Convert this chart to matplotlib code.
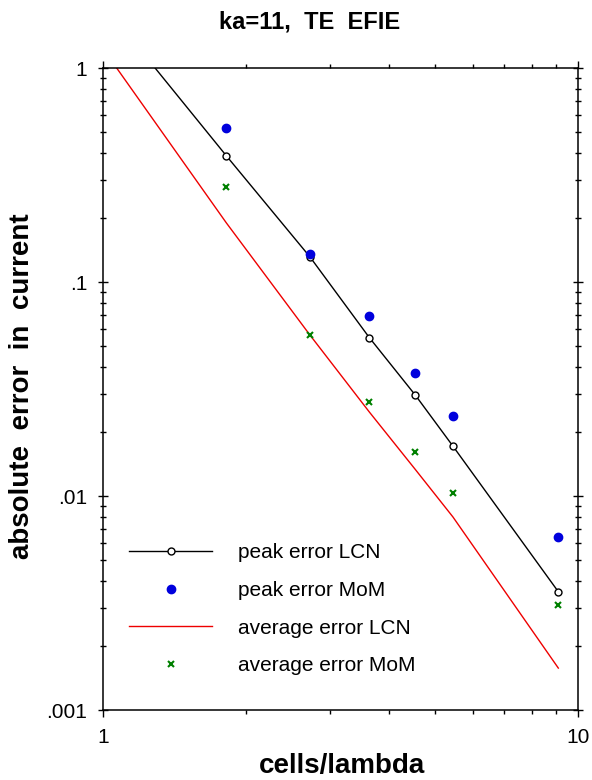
import matplotlib
matplotlib.use("Agg")
import matplotlib.pyplot as plt
from matplotlib.ticker import NullFormatter

plt.rcParams['font.family'] = ['Liberation Sans', 'DejaVu Sans']

# cells per wavelength (samples)
cells = [0.909, 1.818, 2.727, 3.636, 4.545, 5.454, 9.09]
cells_mom = [1.818, 2.727, 3.636, 4.545, 5.454, 9.09]

# errors
peak_lcn = [2.59, 0.389, 0.131, 0.055, 0.0296, 0.0171, 0.00357]
avg_lcn = [1.66, 0.189, 0.0565, 0.0247, 0.0133, 0.00798, 0.00157]
peak_mom = [0.526, 0.135, 0.0694, 0.0376, 0.0236, 0.00646]
avg_mom = [0.279, 0.0565, 0.0276, 0.016, 0.0103, 0.0031]

xticks = [1, 10]
xticklabels = ['1', '10']
yticks = [0.001, 0.01, 0.1, 1]
yticklabels = ['.001', '.01', '.1', '1']

fig = plt.figure(figsize=(5.92, 7.80), dpi=100)
ax = fig.add_axes([103/592, 70/780, 475/592, 642/780])

ax.plot(cells, peak_lcn, color='black', lw=1.0, marker='o', ms=5,
        mfc='white', mec='black', mew=1.0, label='peak error LCN')
ax.plot(cells_mom, peak_mom, ls='none', marker='o', ms=6, color='#0000dd',
        label='peak error MoM')
ax.plot(cells, avg_lcn, color='#ee0000', lw=1.0, label='average error LCN')
ax.plot(cells_mom, avg_mom, ls='none', marker='x', ms=5, mew=1.5,
        color='#008000', label='average error MoM')

ax.set_xscale('log')
ax.set_yscale('log')
ax.set_xlim(1, 10)
ax.set_ylim(0.001, 1)
ax.set_xticks(xticks)
ax.set_xticklabels(xticklabels)
ax.set_yticks(yticks)
ax.set_yticklabels(yticklabels)
ax.xaxis.set_minor_formatter(NullFormatter())
ax.yaxis.set_minor_formatter(NullFormatter())

for s in ax.spines.values():
    s.set_linewidth(1.1)
ax.tick_params(which='both', top=True, right=True, direction='out',
               labelsize=15, width=1.0, pad=8)
ax.tick_params(which='major', length=5)
ax.tick_params(which='minor', length=3)
ax.tick_params(axis='y', which='both', left=True, direction='inout')
ax.tick_params(axis='y', which='major', length=7)
ax.tick_params(axis='y', which='minor', length=5)

ax.legend(loc='upper left', bbox_to_anchor=(0.055, 0.260), frameon=False,
          fontsize=15, handlelength=4.0, handletextpad=1.25, labelspacing=0.9,
          borderpad=0, borderaxespad=0, numpoints=1)

fig.text(310/592, 1 - 22/780, 'ka=11,  TE  EFIE', ha='center', va='center',
         fontsize=17, fontweight='bold')
fig.text(342/592, 1 - 773/780, 'cells/lambda', ha='center', va='baseline',
         fontsize=20, fontweight='bold')
fig.text(22/592, 1 - 386/780, 'absolute  error  in  current', ha='center',
         va='center', rotation=90, fontsize=20, fontweight='bold')

fig.savefig('out.png', dpi=100)
